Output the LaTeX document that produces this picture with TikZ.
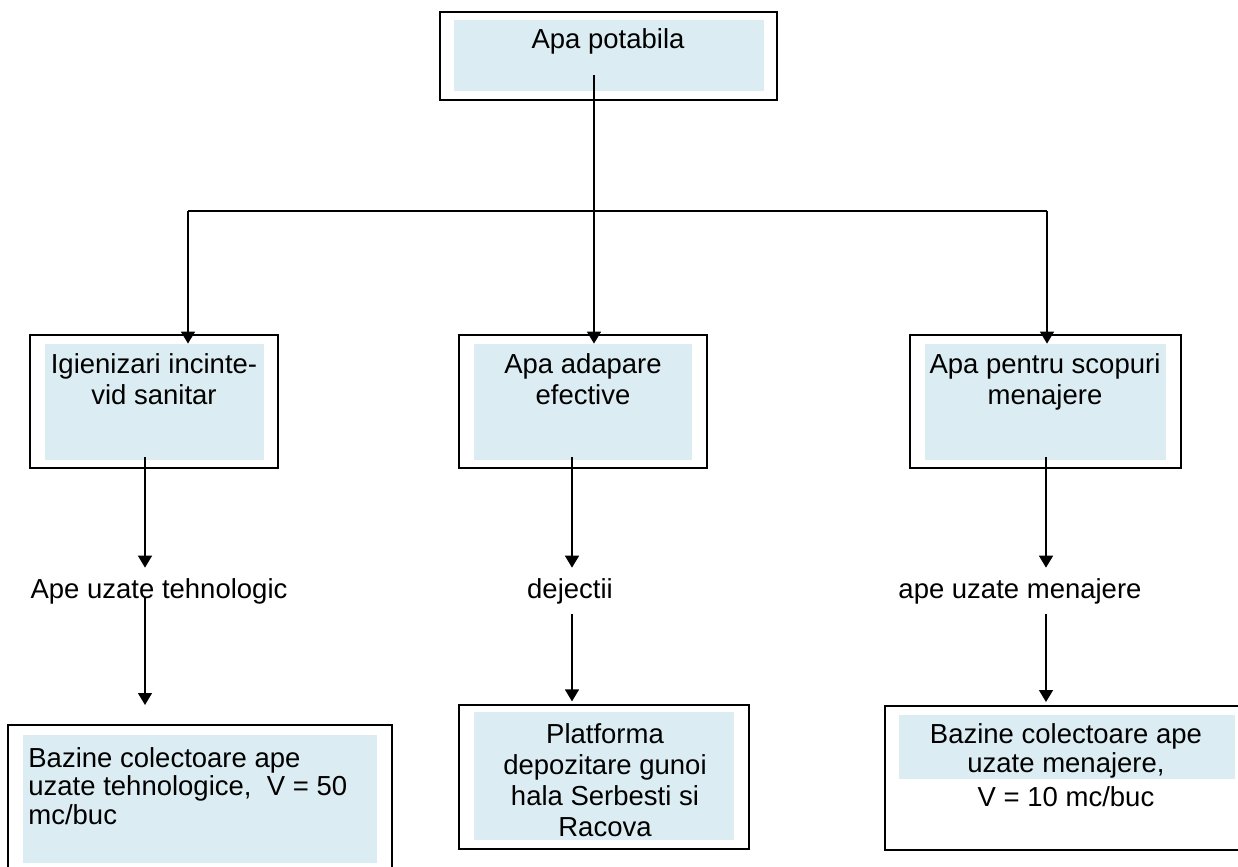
\documentclass[tikz,border=0pt]{standalone}
\usepackage{fontspec}
\setmainfont{Liberation Sans}
\usetikzlibrary{arrows.meta, positioning}
\definecolor{apablue}{HTML}{DBEDF3}
\tikzset{
  outerbox/.style={draw=black, line width=0.6pt, inner sep=0pt},
  innerfill/.style={fill=apablue, draw=none, inner sep=0pt},
  txt/.style={font=\fontsize{13.75}{15.5}\selectfont, align=center, inner sep=0pt},
  flowlbl/.style={font=\fontsize{13.75}{15.5}\selectfont, inner sep=5pt},
  arrow/.style={-{Triangle[length=6pt,width=7pt]}, line width=0.75pt}
}

\begin{document}
\begin{tikzpicture}[x=0.5pt, y=-0.5pt]
  \useasboundingbox (0,0) rectangle (1238,867);

  % sursa
  \node[outerbox, minimum width=168.5pt, minimum height=44pt] (potabout) at (608.5,56) {};
  \node[innerfill, minimum width=155pt, minimum height=35.5pt] (potabin) at (609,55.5) {};
  \node[txt, anchor=north] (potabtxt) at (608,28) {Apa potabila};

  % consumatori
  \node[outerbox, minimum width=124pt, minimum height=66.5pt] (igienout) at (154,401.5) {};
  \node[innerfill, minimum width=109.5pt, minimum height=58pt] (igienin) at (154.5,402) {};
  \node[txt, anchor=north] (igientxt) at (154,353) {Igienizari incinte-\\vid sanitar};

  \node[outerbox, minimum width=124pt, minimum height=66.5pt] (adapout) at (583,401.5) {};
  \node[innerfill, minimum width=109pt, minimum height=58pt] (adapin) at (583,402) {};
  \node[txt, anchor=north] (adaptxt) at (583,353) {Apa adapare\\efective};

  \node[outerbox, minimum width=135.5pt, minimum height=66.5pt] (menajout) at (1045.5,401.5) {};
  \node[innerfill, minimum width=120.5pt, minimum height=58pt] (menajin) at (1045.5,402) {};
  \node[txt, anchor=north] (menajtxt) at (1045,353) {Apa pentru scopuri\\menajere};

  % ape rezultate
  \node[flowlbl, anchor=base] (tehnlbl) at (159,598) {Ape uzate tehnologic};
  \node[flowlbl, anchor=base] (dejlbl) at (570,598) {dejectii};
  \node[flowlbl, anchor=base] (menlbl) at (1020,598) {ape uzate menajere};

  % colectare
  \draw[outerbox] (8,870) |- (392,725) -- (392,870);
  \node[innerfill, minimum width=177pt, minimum height=64pt] (bazteh) at (200,799) {};
  \node[txt, align=left, anchor=north west, font=\fontsize{13.75}{14.3}\selectfont]
    (baztehtxt) at (28,747) {Bazine colectoare ape\\uzate tehnologice,~ V = 50\\mc/buc};

  \node[outerbox, minimum width=145pt, minimum height=72pt] (platout) at (604,777) {};
  \node[innerfill, minimum width=130pt, minimum height=64pt] (platin) at (604,776) {};
  \node[txt, anchor=north] (plattxt) at (605,723)
    {Platforma\\depozitare gunoi\\hala Serbesti si\\Racova};

  \draw[outerbox] (1240,706) -| (885,850) -- (1240,850);
  \node[innerfill, minimum width=168pt, minimum height=32pt] (bazmen) at (1067,747) {};
  \node[txt, anchor=north, font=\fontsize{13.75}{14.6}\selectfont]
    (bazmentxt) at (1066,723) {Bazine colectoare ape\\uzate menajere,\\[2.5pt]V = 10 mc/buc};

  % legaturi
  \coordinate (drop) at (594,75);
  \coordinate (busL) at (188,211);
  \coordinate (busR) at (1047,211);
  \draw[line width=0.75pt] (busL) -- (busR);
  \draw[arrow] (drop) -- (drop |- adapin.north);
  \draw[arrow] (busL) -- (busL |- igienin.north);
  \draw[arrow] (busR) -- (busR |- menajin.north);

  \coordinate (tehnA) at (145,457);
  \coordinate (tehnB) at (145,597);
  \coordinate (tehnC) at (145,705);
  \draw[arrow] (tehnA) -- (tehnA |- tehnlbl.north);
  \draw[arrow] (tehnB) -- (tehnC);

  \coordinate (dejA) at (572,457);
  \draw[arrow] (dejA) -- (dejA |- dejlbl.north);
  \draw[arrow] (dejA |- dejlbl.south) -- ([yshift=1.5pt]dejA |- platout.north);

  \coordinate (menA) at (1046,457);
  \coordinate (menC) at (1046,702);
  \draw[arrow] (menA) -- (menA |- menlbl.north);
  \draw[arrow] (menA |- menlbl.south) -- (menC);
\end{tikzpicture}
\end{document}
